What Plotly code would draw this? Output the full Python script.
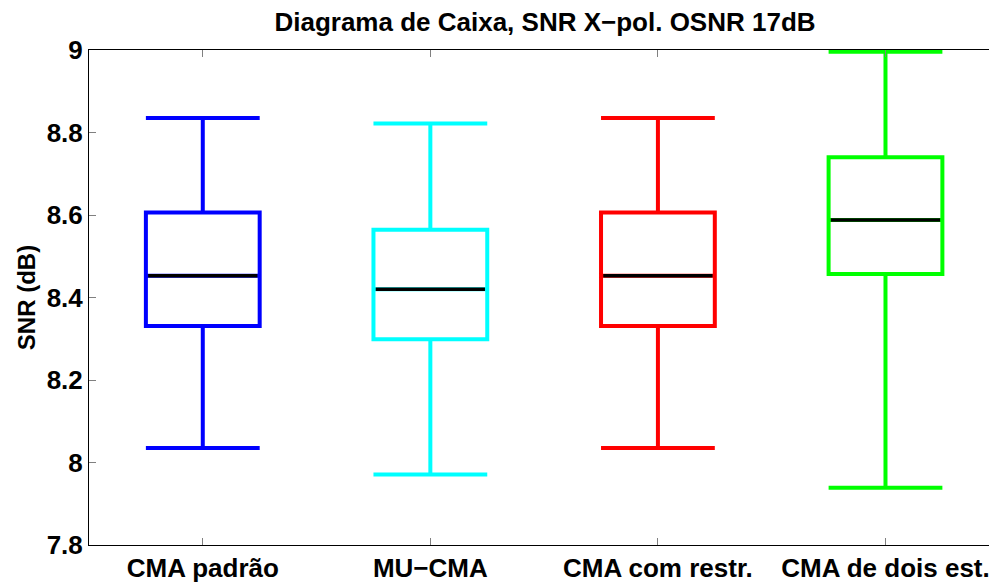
import plotly.graph_objs as go

# box statistics (SNR in dB)
labels = ["CMA padrão", "MU\u2212CMA", "CMA com restr.", "CMA de dois est."]
lower = [8.035, 7.971, 8.035, 7.939]
q1 = [8.331, 8.299, 8.331, 8.457]
median = [8.453, 8.420, 8.453, 8.588]
q3 = [8.606, 8.564, 8.606, 8.740]
upper = [8.835, 8.822, 8.835, 8.996]
colors = ["#0000ff", "#00ffff", "#ff0000", "#00ff00"]

y_ticks = [7.8, 8, 8.2, 8.4, 8.6, 8.8, 9]
y_ticktext = ["7.8", "8", "8.2", "8.4", "8.6", "8.8", "9"]

font = "Liberation Sans, Arial, Helvetica, sans-serif"
half = 0.25

fig = go.Figure()

for i, lab in enumerate(labels):
    pos = i + 1
    fig.add_trace(go.Box(
        x=[pos], q1=[q1[i]], median=[median[i]], q3=[q3[i]],
        lowerfence=[lower[i]], upperfence=[upper[i]],
        width=2 * half, whiskerwidth=1,
        line=dict(color=colors[i], width=4),
        fillcolor="rgba(255,255,255,0)",
        boxpoints=False, showlegend=False, name=lab,
    ))

# black median lines on top of the boxes
mx, my = [], []
for i, m in enumerate(median):
    mx += [i + 1 - half + 0.01, i + 1 + half - 0.01, None]
    my += [m, m, None]
fig.add_trace(go.Scatter(x=mx, y=my, mode="lines",
                         line=dict(color="black", width=3.5),
                         showlegend=False, hoverinfo="skip"))

# page body has an 8px margin, so the figure is sized to fit the window
fig.update_layout(
    width=989, height=577,
    margin=dict(l=81, r=0, t=42, b=40),
    paper_bgcolor="white", plot_bgcolor="white",
    font=dict(family=font, color="black"),
    title=dict(text="<b>Diagrama de Caixa, SNR X\u2212pol. OSNR 17dB</b>",
               x=0.543, xanchor="center", y=0.992, yanchor="top",
               pad=dict(t=0, b=0), font=dict(size=26)),
)
fig.update_xaxes(
    range=[0.5, 4.49], tickvals=[1, 2, 3, 4],
    ticktext=["<b>%s</b>" % t for t in labels],
    tickfont=dict(size=26), ticks="inside", ticklen=7, tickcolor="#808080",
    showline=True, linecolor="black", linewidth=1, mirror="ticks",
    showgrid=False, zeroline=False, automargin=False,
)
fig.update_yaxes(
    range=[7.8, 9], tickvals=y_ticks,
    ticktext=["<b>%s</b>" % t for t in y_ticktext],
    tickfont=dict(size=26), ticks="inside", ticklen=7, tickcolor="#808080",
    showline=True, linecolor="black", linewidth=1, mirror="ticks",
    showgrid=False, zeroline=False, automargin=False,
    title=dict(text="<b>SNR (dB)</b>", font=dict(size=24), standoff=4),
)

fig.write_html("out.html")
